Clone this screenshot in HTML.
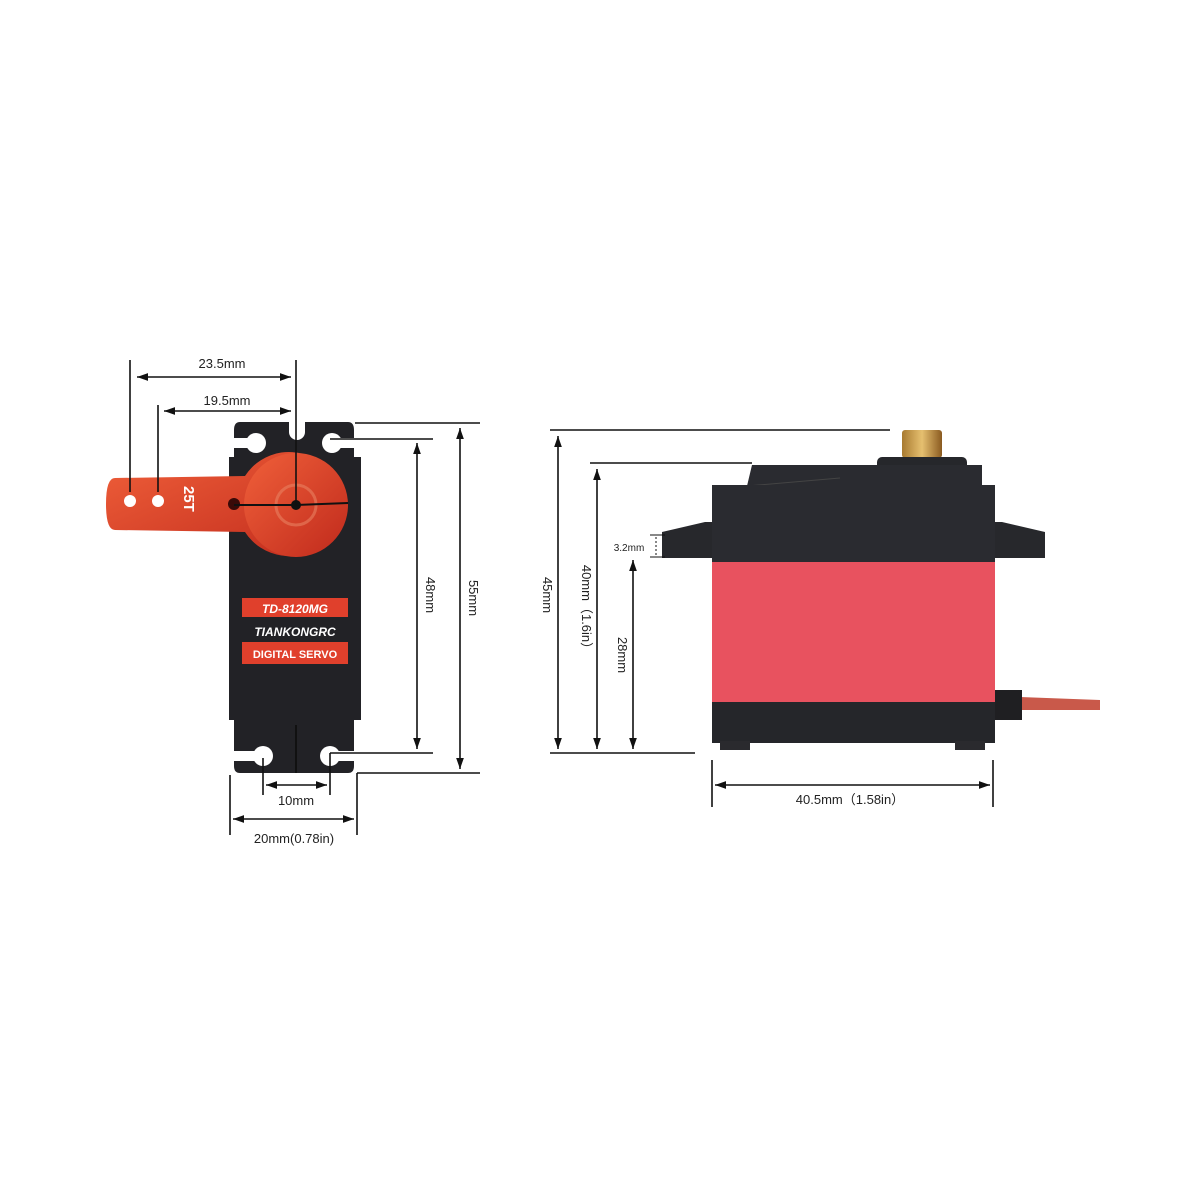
<!DOCTYPE html>
<html><head><meta charset="utf-8"><style>
html,body{margin:0;padding:0;background:#fff;}
svg{display:block;}
text{font-family:"Liberation Sans",sans-serif;}
</style></head><body>
<svg width="1200" height="1200" viewBox="0 0 1200 1200" xmlns="http://www.w3.org/2000/svg">
<defs>
<marker id="a" viewBox="0 0 10 10" refX="10" refY="5" markerWidth="7" markerHeight="7" orient="auto-start-reverse"><path d="M0,1.5 L10,5 L0,8.5 z" fill="#111"/></marker>
<linearGradient id="hg" x1="0" y1="0" x2="1" y2="1"><stop offset="0" stop-color="#f0603a"/><stop offset="1" stop-color="#c02a1c"/></linearGradient>
<linearGradient id="gg" x1="0" y1="0" x2="1" y2="0"><stop offset="0" stop-color="#a87a30"/><stop offset="0.5" stop-color="#e6c070"/><stop offset="1" stop-color="#8a5a20"/></linearGradient>
</defs>

<!-- LEFT SERVO -->
<path d="M240,422 H348 Q354,422 354,430 V457 H361 V720 H354 V766 Q354,773 348,773 H240 Q234,773 234,766 V720 H229 V457 H234 V430 Q234,422 240,422 Z" fill="#222226"/>
<path d="M289,422 V432 A8,8 0 0 0 305,432 V422 Z" fill="#fff"/>
<circle cx="256" cy="443" r="10" fill="#fff"/><rect x="234" y="438" width="22" height="10" fill="#fff"/>
<circle cx="332" cy="443" r="10" fill="#fff"/><rect x="332" y="438" width="22" height="10" fill="#fff"/>
<circle cx="263" cy="756" r="10" fill="#fff"/><rect x="234" y="751" width="29" height="10" fill="#fff"/>
<circle cx="330" cy="756" r="10" fill="#fff"/><rect x="330" y="751" width="24" height="10" fill="#fff"/>
<line x1="296" y1="725" x2="296" y2="773" stroke="#111" stroke-width="2"/>
<path d="M115,478 L245,476 A52,52 0 1 1 245,532 L115,530 Q106,530 106,504 Q106,478 115,478 Z" fill="url(#hg)"/>
<circle cx="296" cy="505" r="52" fill="url(#hg)"/>
<circle cx="296" cy="505" r="20" fill="none" stroke="#e88060" stroke-width="3" opacity="0.6"/>
<circle cx="130" cy="501" r="6" fill="#fff"/>
<circle cx="158" cy="501" r="6" fill="#fff"/>
<circle cx="234" cy="504" r="6" fill="#3a0a08"/>
<circle cx="296" cy="505" r="5" fill="#111"/>
<path d="M234,505 L296,505 L348,503" stroke="#111" stroke-width="2" fill="none"/>
<text x="0" y="0" font-size="15" font-weight="bold" fill="#fff" transform="translate(184,486) rotate(90)">25T</text>
<rect x="242" y="598" width="106" height="19" fill="#e0402c"/>
<text x="295" y="613" font-size="12" font-weight="bold" font-style="italic" fill="#fff" text-anchor="middle">TD-8120MG</text>
<text x="295" y="636" font-size="12" font-weight="bold" font-style="italic" fill="#fff" text-anchor="middle">TIANKONGRC</text>
<rect x="242" y="642" width="106" height="22" fill="#e0402c"/>
<text x="295" y="658" font-size="11" font-weight="bold" fill="#fff" text-anchor="middle">DIGITAL SERVO</text>

<g stroke="#111" stroke-width="1.6" fill="none">
<line x1="130" y1="360" x2="130" y2="492"/>
<line x1="296" y1="360" x2="296" y2="505"/>
<line x1="137" y1="377" x2="291" y2="377" marker-start="url(#a)" marker-end="url(#a)"/>
<line x1="158" y1="405" x2="158" y2="492"/>
<line x1="164" y1="411" x2="291" y2="411" marker-start="url(#a)" marker-end="url(#a)"/>
<line x1="355" y1="423" x2="480" y2="423"/>
<line x1="330" y1="439" x2="433" y2="439"/>
<line x1="330" y1="753" x2="433" y2="753"/>
<line x1="357" y1="773" x2="480" y2="773"/>
<line x1="417" y1="443" x2="417" y2="749" marker-start="url(#a)" marker-end="url(#a)"/>
<line x1="460" y1="428" x2="460" y2="769" marker-start="url(#a)" marker-end="url(#a)"/>
<line x1="263" y1="758" x2="263" y2="795"/>
<line x1="330" y1="753" x2="330" y2="795"/>
<line x1="266" y1="785" x2="327" y2="785" marker-start="url(#a)" marker-end="url(#a)"/>
<line x1="230" y1="775" x2="230" y2="835"/>
<line x1="357" y1="773" x2="357" y2="835"/>
<line x1="233" y1="819" x2="354" y2="819" marker-start="url(#a)" marker-end="url(#a)"/>
</g>
<g font-size="13" fill="#222" text-anchor="middle">
<text x="222" y="368">23.5mm</text>
<text x="227" y="405">19.5mm</text>
<text x="296" y="805">10mm</text>
<text x="294" y="843">20mm(0.78in)</text>
<text transform="translate(426,595) rotate(90)">48mm</text>
<text transform="translate(469,598) rotate(90)">55mm</text>
</g>

<!-- RIGHT SERVO -->
<rect x="902" y="430" width="40" height="28" rx="3" fill="url(#gg)"/>
<rect x="877" y="457" width="90" height="14" rx="5" fill="#26272b"/>
<path d="M752,465 H982 V486 H747 Z" fill="#2a2b30"/>
<path d="M747,486 L840,478" stroke="#444" stroke-width="1"/>
<path d="M662,532 L705,522 L712,522 V558 H662 Z" fill="#27282c"/>
<path d="M995,522 L1002,522 L1045,532 V558 H995 Z" fill="#27282c"/>
<rect x="712" y="485" width="283" height="78" fill="#2a2b30"/>
<rect x="712" y="562" width="283" height="140" fill="#e8525f"/>
<rect x="712" y="702" width="283" height="41" fill="#25262a"/>
<rect x="720" y="741" width="30" height="9" fill="#2a2a2e"/>
<rect x="955" y="741" width="30" height="9" fill="#2a2a2e"/>
<path d="M1020,697 L1100,700 L1100,710 L1020,710 Z" fill="#c9594a"/>
<rect x="995" y="690" width="27" height="30" fill="#1f1f22"/>

<g stroke="#111" stroke-width="1.6" fill="none">
<line x1="550" y1="430" x2="890" y2="430"/>
<line x1="590" y1="463" x2="752" y2="463"/>
<line x1="550" y1="753" x2="695" y2="753"/>
<line x1="558" y1="436" x2="558" y2="749" marker-start="url(#a)" marker-end="url(#a)"/>
<line x1="597" y1="469" x2="597" y2="749" marker-start="url(#a)" marker-end="url(#a)"/>
<line x1="633" y1="560" x2="633" y2="749" marker-start="url(#a)" marker-end="url(#a)"/>
<line x1="650" y1="535" x2="665" y2="535" stroke-width="1"/>
<line x1="650" y1="557" x2="665" y2="557" stroke-width="1"/>
<line x1="656" y1="537" x2="656" y2="555" stroke-width="1" stroke-dasharray="2,2"/>
<line x1="712" y1="760" x2="712" y2="807"/>
<line x1="993" y1="760" x2="993" y2="807"/>
<line x1="715" y1="785" x2="990" y2="785" marker-start="url(#a)" marker-end="url(#a)"/>
</g>
<g font-size="13" fill="#222" text-anchor="middle" font-family="Liberation Sans, Noto Sans CJK SC, sans-serif">
<text x="629" y="551" font-size="10">3.2mm</text>
<text x="850" y="804">40.5mm（1.58in）</text>
<text transform="translate(543,595) rotate(90)">45mm</text>
<text transform="translate(582,610) rotate(90)">40mm（1.6in）</text>
<text transform="translate(618,655) rotate(90)">28mm</text>
</g>
</svg>
</body></html>
